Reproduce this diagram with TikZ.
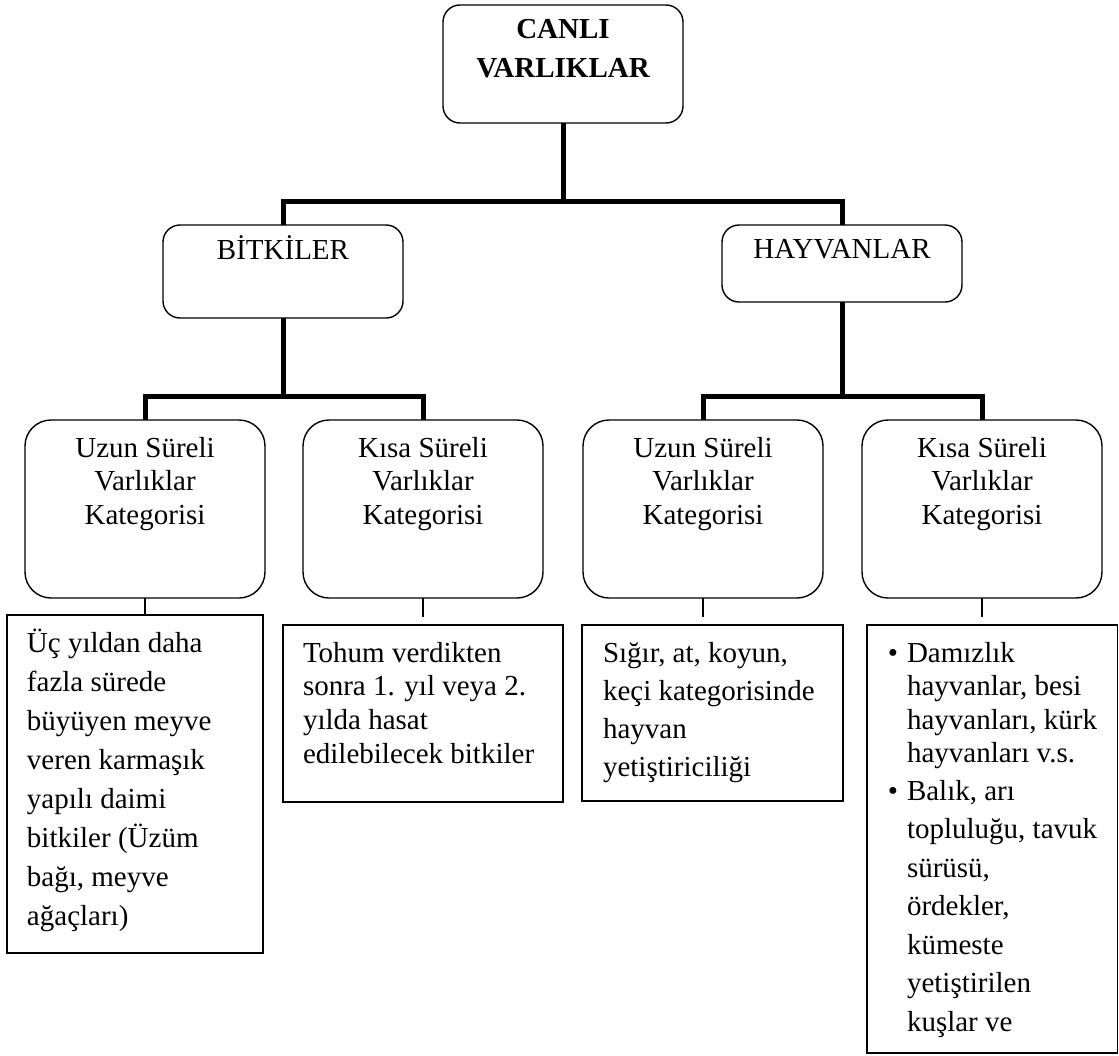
\documentclass[tikz,border=0pt]{standalone}
\usepackage{fontspec}
\setmainfont{Liberation Serif}
% a block of lines with a fixed distance between baselines; the block's baseline is its first line
\newcommand\linestack[2]{\vtop{\baselineskip=#1\relax\lineskiplimit=-100pt\relax\lineskip=0pt\relax #2}}
\newcommand\crow[1]{\hbox to 0pt{\hss#1\hss}}
\newcommand\lrow[1]{\hbox{#1}}
\begin{document}
\begin{tikzpicture}[x=1pt,y=-1pt,
  every node/.style={inner sep=0pt, outer sep=0pt},
  topbox/.style={draw, line width=1.4pt, rounded corners=17pt, minimum width=240pt, anchor=north west},
  catbox/.style={draw, line width=1.4pt, rounded corners=26pt, minimum width=240pt, minimum height=178pt, anchor=north west},
  notebox/.style={draw, line width=1.8pt, anchor=north west},
  bar/.style={line width=5pt, line join=miter},
  tick/.style={line width=1.2pt},
  txt/.style={anchor=base, font=\fontsize{29}{33.5}\selectfont},
]
\useasboundingbox (0,0) rectangle (1119,1055);

% ---- boxes ----
\node[topbox, minimum height=118pt] (canli) at (443,5) {};
\node[topbox, minimum height=93pt] (bitkiler) at (163,225) {};
\node[topbox, minimum height=77pt] (hayvanlar) at (722,225) {};

\node[catbox] (pu) at (25,420) {};
\node[catbox] (pk) at (303,420) {};
\node[catbox] (au) at (583,420) {};
\node[catbox] (ak) at (862,420) {};

\node[notebox, minimum width=256pt, minimum height=338pt] (n1) at (7,615) {};
\node[notebox, minimum width=280pt, minimum height=177pt] (n2) at (283,625) {};
\node[notebox, minimum width=261pt, minimum height=176pt] (n3) at (582,625) {};
\node[notebox, minimum width=250.5pt, minimum height=428pt] (n4) at (867,625) {};

% ---- thick tree connectors ----
\coordinate (j1) at (563,201);
\coordinate (j2) at (283,396);
\coordinate (j3) at (842,396);
\draw[bar] (canli.south) -- (j1);
\draw[bar] (bitkiler.north) |- (j1) -| (hayvanlar.north);
\draw[bar] (bitkiler.south) -- (j2);
\draw[bar] (pu.north) |- (j2) -| (pk.north);
\draw[bar] (hayvanlar.south) -- (j3);
\draw[bar] (au.north) |- (j3) -| (ak.north);

% ---- thin ticks under the category boxes ----
\coordinate (e2) at (423,617);
\coordinate (e3) at (703,617);
\coordinate (e4) at (982,617);
\draw[tick] (pu.south) -- (pu.south |- n1.north);
\draw[tick] (pk.south) -- (e2);
\draw[tick] (au.south) -- (e3);
\draw[tick] (ak.south) -- (e4);

% ---- texts ----
\node[txt, font=\fontsize{29}{38}\selectfont\bfseries] (canli-t) at (canli.north |- 0,38)
  {\linestack{39pt}{\crow{CANLI}\crow{VARLIKLAR}}};
\node[txt] (bitkiler-t) at (bitkiler.north |- 0,259) {BİTKİLER};
\node[txt] (hayvanlar-t) at (hayvanlar.north |- 0,258) {HAYVANLAR};

\node[txt] (pu-t) at (pu.north |- 0,457)
  {\linestack{33.5pt}{\crow{Uzun Süreli}\crow{Varlıklar}\crow{Kategorisi}}};
\node[txt] (pk-t) at (pk.north |- 0,457)
  {\linestack{33.5pt}{\crow{Kısa Süreli}\crow{Varlıklar}\crow{Kategorisi}}};
\node[txt] (au-t) at (au.north |- 0,457)
  {\linestack{33.5pt}{\crow{Uzun Süreli}\crow{Varlıklar}\crow{Kategorisi}}};
\node[txt] (ak-t) at (ak.north |- 0,457)
  {\linestack{33.5pt}{\crow{Kısa Süreli}\crow{Varlıklar}\crow{Kategorisi}}};

\node[txt, anchor=base west] (n1-t) at (27,652)
  {\linestack{39pt}{\lrow{Üç yıldan daha}\lrow{fazla sürede}\lrow{büyüyen meyve}\lrow{veren karmaşık}%
   \lrow{yapılı daimi}\lrow{bitkiler (Üzüm}\lrow{bağı, meyve}\lrow{ağaçları)}}};
\node[txt, anchor=base west] (n2-t) at (303,662)
  {\linestack{33.7pt}{\lrow{Tohum verdikten}\lrow{sonra 1. yıl veya 2.}\lrow{yılda hasat}\lrow{edilebilecek bitkiler}}};
\node[txt, anchor=base west] (n3-t) at (603,662)
  {\linestack{38.3pt}{\lrow{Sığır, at, koyun,}\lrow{keçi kategorisinde}\lrow{hayvan}\lrow{yetiştiriciliği}}};

\node[txt] (b1) at (893,662) {•};
\node[txt, anchor=base west] (n4-a) at (907,662)
  {\linestack{33.5pt}{\lrow{Damızlık}\lrow{hayvanlar, besi}\lrow{hayvanları, kürk}\lrow{hayvanları v.s.}}};
\node[txt] (b2) at (893,800) {•};
\node[txt, anchor=base west] (n4-b) at (907,800)
  {\linestack{38.5pt}{\lrow{Balık, arı}\lrow{topluluğu, tavuk}\lrow{sürüsü,}\lrow{ördekler,}\lrow{kümeste}%
   \lrow{yetiştirilen}\lrow{kuşlar ve}}};
\end{tikzpicture}
\end{document}
